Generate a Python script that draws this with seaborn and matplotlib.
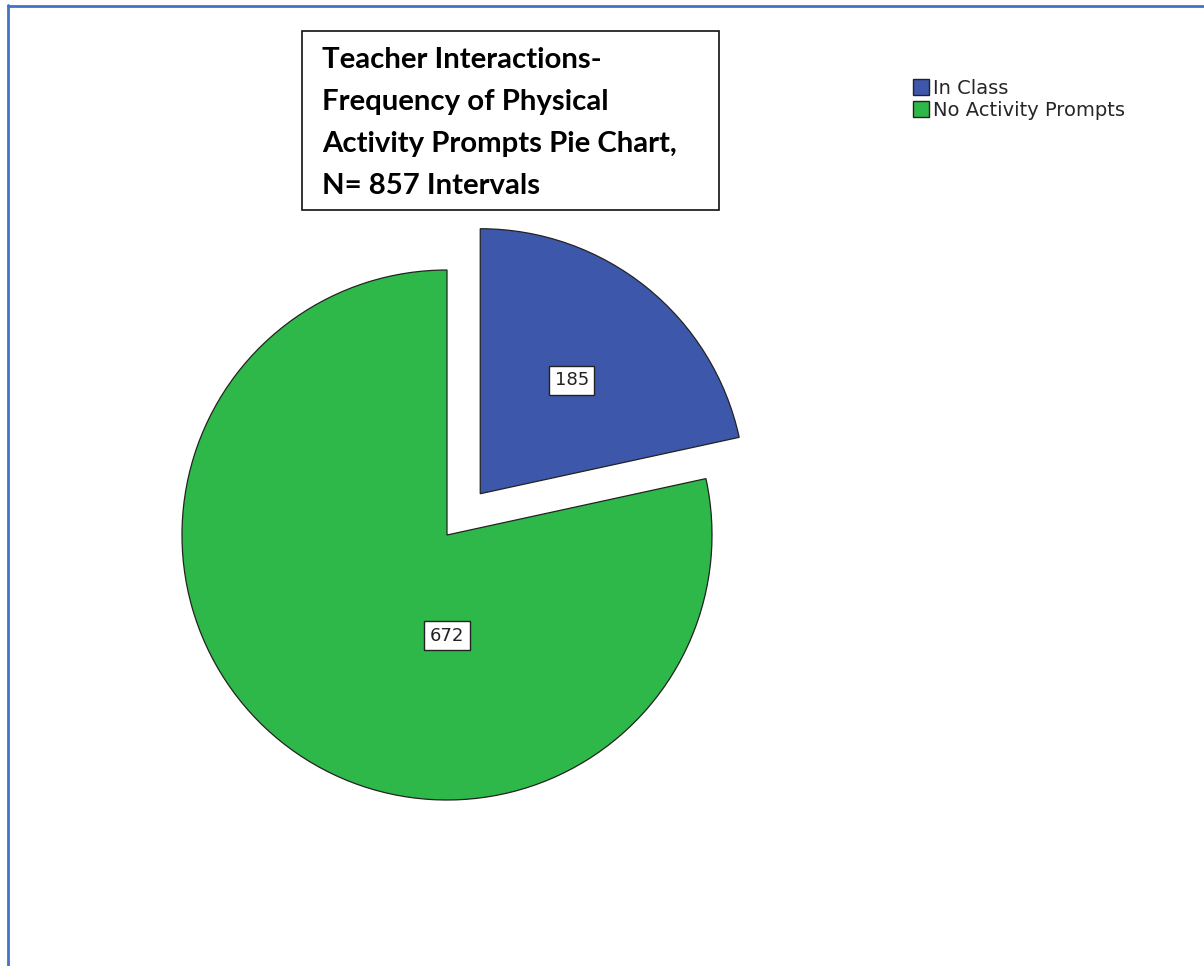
import numpy as np
import matplotlib
matplotlib.use("Agg")
import matplotlib.pyplot as plt
import seaborn as sns
from matplotlib.patches import Rectangle
from matplotlib.lines import Line2D

# データ
categories = ["In Class", "No Activity Prompts"]
counts = [185, 672]
colors = ["#3D58AA", "#2EB84A"]
title_lines = ["Teacher Interactions-", "Frequency of Physical",
               "Activity Prompts Pie Chart,", "N= 857 Intervals"]

sns.set_theme(style="white")
plt.rcParams["font.family"] = ["DejaVu Sans"]

W, H = 1204, 966
fig = plt.figure(figsize=(W / 100, H / 100), dpi=100)
ax = fig.add_axes([0, 0, 1, 1])

# 円グラフ（ピクセル座標で描く）
cx, cy, r = 447, H - 535, 265
wedges, _ = ax.pie(counts, colors=colors, startangle=90, counterclock=False,
                   explode=[0.2 * r, 0], radius=r, center=(cx, cy),
                   wedgeprops=dict(edgecolor="#222222", linewidth=0.9))
ax.set_xlim(0, W)
ax.set_ylim(0, H)
ax.axis("off")

# 値ラベル
box = dict(boxstyle="square,pad=0.3", fc="white", ec="#222222", lw=1.0)
w0 = wedges[0]
mid = np.deg2rad((w0.theta1 + w0.theta2) / 2)
ox, oy = w0.center
ax.text(ox + 0.55 * r * np.cos(mid), oy + 0.55 * r * np.sin(mid), str(counts[0]),
        ha="center", va="center", fontsize=13, color="#222222", bbox=box)
ax.text(cx, cy - 0.38 * r, str(counts[1]),
        ha="center", va="center", fontsize=13, color="#222222", bbox=box)

# 凡例
leg = fig.legend(wedges, categories, loc="upper left", bbox_to_anchor=(899 / W, 1 - 65 / H),
                 frameon=False, fontsize=14, handlelength=0.85, handleheight=0.85,
                 handletextpad=0.2, labelspacing=0.15, borderpad=0.2)
for h in leg.legend_handles:
    h.set_edgecolor("#222222")
    h.set_linewidth(1.0)

# タイトル枠
fig.patches.append(Rectangle((302 / W, 1 - 210 / H), 417 / W, 179 / H,
                             transform=fig.transFigure, fill=False,
                             edgecolor="#111111", linewidth=1.2))
fig.text(322 / W, 1 - 47 / H, "\n".join(title_lines), ha="left", va="top",
         fontsize=21.2, fontweight="bold", family=["Lato", "DejaVu Sans"],
         linespacing=1.76, color="black")

# 外枠（青）
fig.add_artist(Line2D([7.5 / W, 7.5 / W], [0, 1 - 5 / H], transform=fig.transFigure,
                      color="#4472C4", lw=2))
fig.add_artist(Line2D([7.5 / W, 1], [1 - 5.5 / H, 1 - 5.5 / H], transform=fig.transFigure,
                      color="#4472C4", lw=2))

plt.savefig("out.png", dpi=100)
plt.close()
